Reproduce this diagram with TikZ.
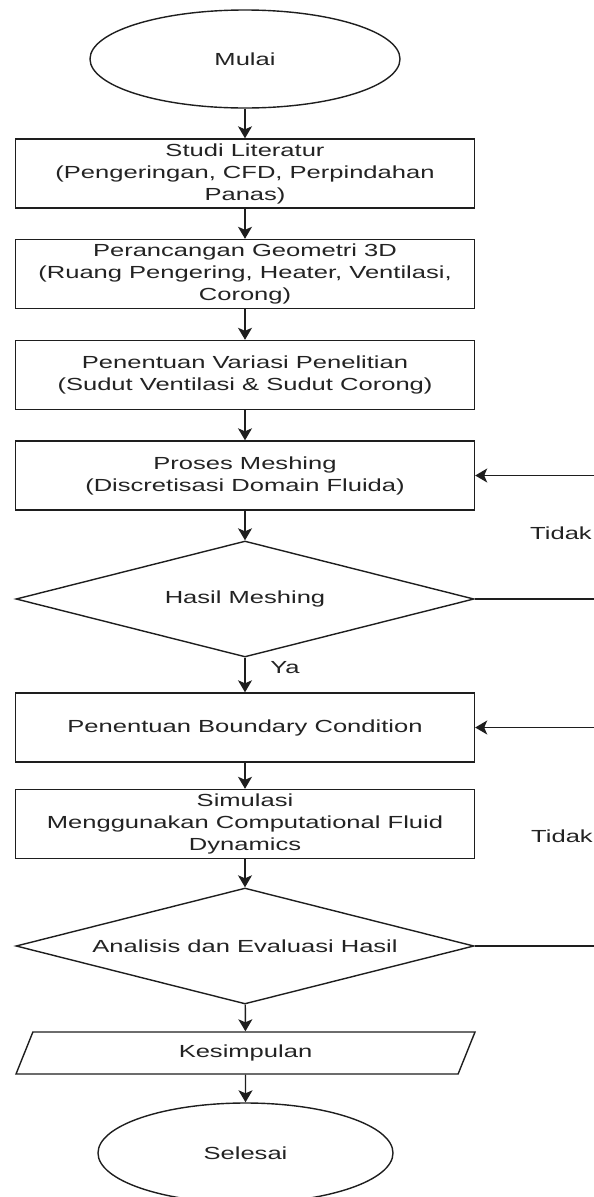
\documentclass[tikz,border=0pt]{standalone}
\usepackage{fontspec}
\usepackage{tikz}
\usetikzlibrary{shapes.geometric, arrows.meta, positioning}
\newfontfamily\flowfont[FakeStretch=1.46]{Liberation Sans}
\definecolor{myline}{RGB}{30,30,30}
\definecolor{mytext}{RGB}{35,35,35}
\tikzset{
  block/.style={rectangle, draw=myline, fill=white,
    minimum width=459pt, minimum height=69pt, inner sep=0pt, align=center,
    font=\flowfont\fontsize{17.5}{22}\selectfont, text=mytext, line width=1.4pt},
  decision/.style={diamond, shape aspect=3.95, draw=myline, fill=white,
    minimum width=458pt, minimum height=116pt, inner sep=0pt, align=center,
    font=\flowfont\fontsize{17.5}{22}\selectfont, text=mytext, line width=1.4pt},
  terminal/.style={ellipse, draw=myline, fill=white, inner sep=0pt,
    font=\flowfont\fontsize{17.5}{22}\selectfont, text=mytext, line width=1.4pt},
  iobox/.style={trapezium, trapezium left angle=44, trapezium right angle=136,
    trapezium stretches body, draw=myline, fill=white,
    minimum width=459pt, minimum height=42pt, inner sep=0pt,
    font=\flowfont\fontsize{17.5}{22}\selectfont, text=mytext, line width=1.4pt},
  note/.style={font=\flowfont\fontsize{17.5}{22}\selectfont, text=mytext},
  arrow/.style={-{Stealth[length=12pt, width=14pt, inset=3pt]}, line width=1.4pt, color=myline},
  line/.style={line width=1.4pt, color=myline}
}

\begin{document}
\begin{tikzpicture}[x=1pt, y=-1pt]
  \useasboundingbox (0,0) rectangle (594,1197);

  % Start
  \node[terminal, minimum width=310pt, minimum height=98pt] (mulai) at (245,59) {Mulai};

  % Process steps
  \node[block] (studi) at (245,173.5) {Studi Literatur\\(Pengeringan, CFD, Perpindahan\\Panas)};
  \node[block] (geometri) at (245,274) {Perancangan Geometri 3D\\(Ruang Pengering, Heater, Ventilasi,\\Corong)};
  \node[block] (variasi) at (245,375) {Penentuan Variasi Penelitian\\(Sudut Ventilasi \& Sudut Corong)};
  \node[block] (meshing) at (245,475.5) {Proses Meshing\\(Discretisasi Domain Fluida)};
  \node[decision] (cekmesh) at (245,599) {Hasil Meshing};
  \node[block] (boundary) at (245,727.5) {Penentuan Boundary Condition};
  \node[block] (simulasi) at (245,824) {Simulasi\\Menggunakan Computational Fluid\\Dynamics};
  \node[decision] (evaluasi) at (245,946) {Analisis dan Evaluasi Hasil};
  \node[iobox] (kesimpulan) at (245.5,1053) {Kesimpulan};

  % End
  \node[terminal, minimum width=295pt, minimum height=100pt] (selesai) at (245.5,1153) {Selesai};

  % Feedback ends at the page edge
  \coordinate (out1) at (594,599);
  \coordinate (in1) at (594,475.5);
  \coordinate (out2) at (594,946);
  \coordinate (in2) at (594,727.5);

  % Main flow
  \draw[arrow] (mulai) -- (studi);
  \draw[arrow] (studi) -- (geometri);
  \draw[arrow] (geometri) -- (variasi);
  \draw[arrow] (variasi) -- (meshing);
  \draw[arrow] (meshing) -- (cekmesh);
  \draw[arrow] (cekmesh) -- (boundary);
  \draw[arrow] (boundary) -- (simulasi);
  \draw[arrow] (simulasi) -- (evaluasi);
  \draw[arrow] (evaluasi) -- (kesimpulan);
  \draw[arrow] (kesimpulan) -- (selesai);

  % Loops
  \draw[line] (cekmesh.east) -- (out1);
  \draw[arrow] (in1) -- (meshing.east);
  \draw[line] (evaluasi.east) -- (out2);
  \draw[arrow] (in2) -- (boundary.east);

  % Labels
  \node[note] (ya) at (285,668) {Ya};
  \node[note] (tidak1) at (561,533) {Tidak};
  \node[note] (tidak2) at (562,836) {Tidak};
\end{tikzpicture}
\end{document}
